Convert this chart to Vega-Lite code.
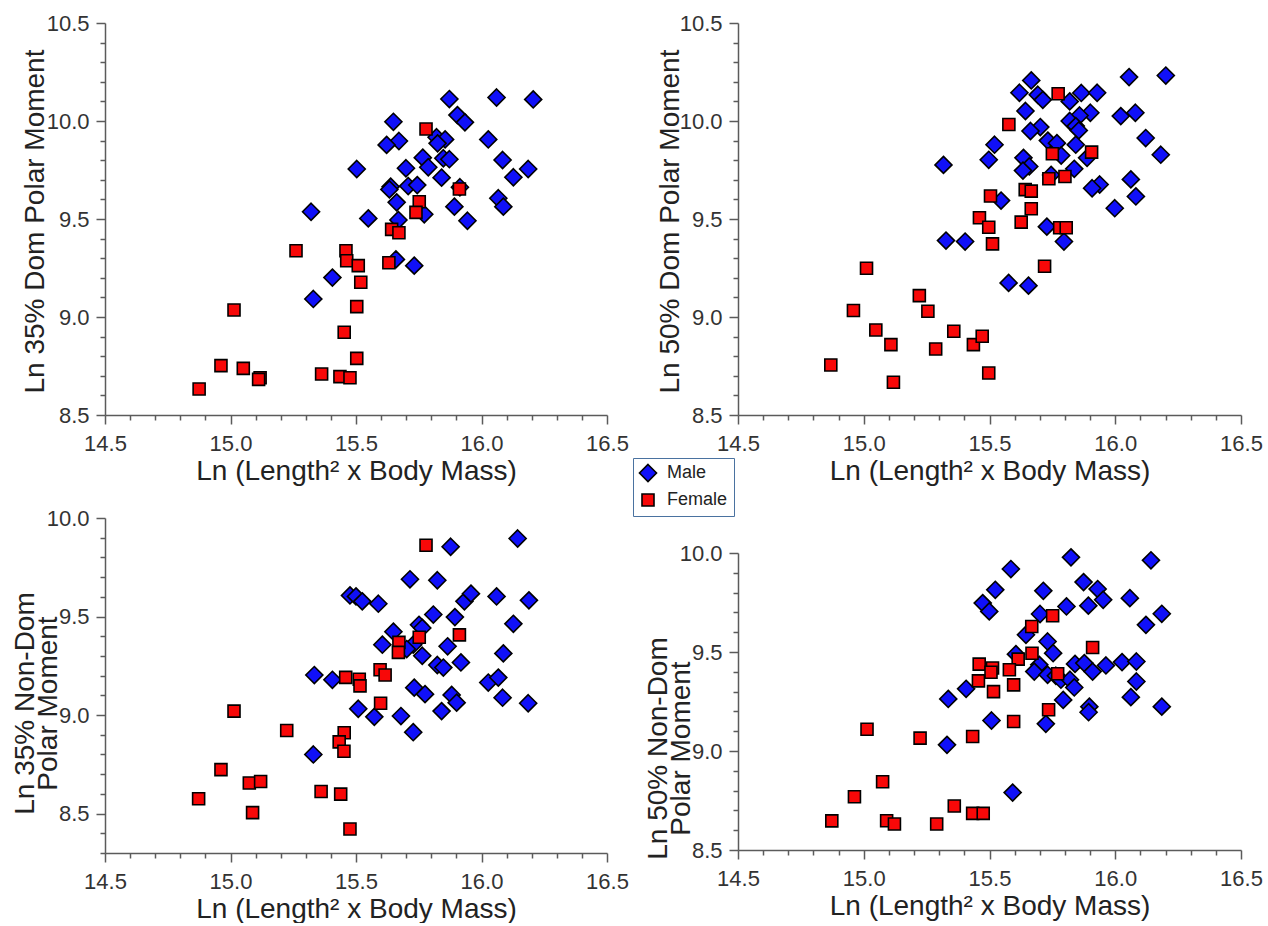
{
  "$schema": "https://vega.github.io/schema/vega-lite/v6.json",
  "background": "white",
  "padding": {"left": 11, "top": 12, "right": 5, "bottom": 0},
  "config": {
    "view": {"stroke": null},
    "font": "Liberation Sans",
    "axis": {
      "grid": false,
      "domainColor": "#5b5b5b",
      "domainWidth": 1.5,
      "tickColor": "#5b5b5b",
      "tickWidth": 1.5,
      "labelFont": "Liberation Sans Narrow, Arial Narrow, Liberation Sans",
      "labelFontSize": 22,
      "labelColor": "#333333",
      "labelFlush": false,
      "labelOverlap": false,
      "labelBound": false,
      "titleFont": "Liberation Sans",
      "titleFontSize": 28,
      "titleFontWeight": "normal",
      "titleColor": "#222222"
    },
    "axisX": {"labelPadding": 9},
    "axisY": {"labelPadding": 7}
  },
  "datasets": {
    "tl": [
      {"s":"Male","x":15.872,"y":10.112},{"s":"Male","x":16.06,"y":10.12},{"s":"Male","x":16.206,"y":10.11},{"s":"Male","x":15.904,"y":10.03},{"s":"Male","x":15.934,"y":9.993},{"s":"Male","x":15.649,"y":9.996},{"s":"Male","x":15.821,"y":9.917},{"s":"Male","x":15.855,"y":9.906},{"s":"Male","x":15.825,"y":9.886},{"s":"Male","x":15.671,"y":9.898},{"s":"Male","x":15.622,"y":9.878},{"s":"Male","x":16.027,"y":9.906},{"s":"Male","x":15.766,"y":9.813},{"s":"Male","x":15.848,"y":9.81},{"s":"Male","x":15.872,"y":9.805},{"s":"Male","x":15.788,"y":9.764},{"s":"Male","x":15.699,"y":9.759},{"s":"Male","x":15.503,"y":9.755},{"s":"Male","x":16.084,"y":9.801},{"s":"Male","x":16.186,"y":9.755},{"s":"Male","x":16.127,"y":9.713},{"s":"Male","x":15.841,"y":9.711},{"s":"Male","x":15.708,"y":9.668},{"s":"Male","x":15.744,"y":9.673},{"s":"Male","x":15.638,"y":9.665},{"s":"Male","x":15.633,"y":9.651},{"s":"Male","x":15.914,"y":9.662},{"s":"Male","x":15.662,"y":9.585},{"s":"Male","x":15.892,"y":9.563},{"s":"Male","x":16.067,"y":9.606},{"s":"Male","x":16.087,"y":9.563},{"s":"Male","x":15.772,"y":9.524},{"s":"Male","x":15.669,"y":9.495},{"s":"Male","x":15.944,"y":9.491},{"s":"Male","x":15.549,"y":9.503},{"s":"Male","x":15.321,"y":9.537},{"s":"Male","x":15.659,"y":9.294},{"s":"Male","x":15.732,"y":9.262},{"s":"Male","x":15.406,"y":9.201},{"s":"Male","x":15.33,"y":9.092},
      {"s":"Female","x":15.779,"y":9.959},{"s":"Female","x":15.912,"y":9.653},{"s":"Female","x":15.752,"y":9.588},{"s":"Female","x":15.739,"y":9.534},{"s":"Female","x":15.642,"y":9.447},{"s":"Female","x":15.671,"y":9.43},{"s":"Female","x":15.261,"y":9.338},{"s":"Female","x":15.46,"y":9.338},{"s":"Female","x":15.463,"y":9.287},{"s":"Female","x":15.509,"y":9.262},{"s":"Female","x":15.631,"y":9.277},{"s":"Female","x":15.519,"y":9.177},{"s":"Female","x":15.503,"y":9.053},{"s":"Female","x":15.014,"y":9.036},{"s":"Female","x":15.453,"y":8.922},{"s":"Female","x":15.503,"y":8.789},{"s":"Female","x":14.962,"y":8.752},{"s":"Female","x":15.051,"y":8.738},{"s":"Female","x":15.118,"y":8.69},{"s":"Female","x":15.112,"y":8.682},{"s":"Female","x":15.363,"y":8.709},{"s":"Female","x":15.436,"y":8.696},{"s":"Female","x":15.476,"y":8.69},{"s":"Female","x":14.875,"y":8.633}
    ],
    "tr": [
      {"s":"Male","x":15.666,"y":10.207},{"s":"Male","x":16.055,"y":10.224},{"s":"Male","x":16.201,"y":10.232},{"s":"Male","x":15.619,"y":10.144},{"s":"Male","x":15.692,"y":10.134},{"s":"Male","x":15.712,"y":10.108},{"s":"Male","x":15.819,"y":10.1},{"s":"Male","x":15.865,"y":10.143},{"s":"Male","x":15.928,"y":10.144},{"s":"Male","x":15.643,"y":10.051},{"s":"Male","x":15.901,"y":10.042},{"s":"Male","x":16.022,"y":10.025},{"s":"Male","x":16.08,"y":10.042},{"s":"Male","x":15.858,"y":10.028},{"s":"Male","x":15.819,"y":10.0},{"s":"Male","x":15.843,"y":9.974},{"s":"Male","x":15.855,"y":9.952},{"s":"Male","x":15.702,"y":9.969},{"s":"Male","x":15.663,"y":9.949},{"s":"Male","x":16.121,"y":9.913},{"s":"Male","x":15.52,"y":9.879},{"s":"Male","x":15.732,"y":9.9},{"s":"Male","x":15.768,"y":9.887},{"s":"Male","x":15.843,"y":9.879},{"s":"Male","x":16.181,"y":9.828},{"s":"Male","x":15.497,"y":9.802},{"s":"Male","x":15.635,"y":9.812},{"s":"Male","x":15.785,"y":9.824},{"s":"Male","x":15.888,"y":9.812},{"s":"Male","x":15.658,"y":9.768},{"s":"Male","x":15.633,"y":9.747},{"s":"Male","x":15.837,"y":9.756},{"s":"Male","x":15.745,"y":9.725},{"s":"Male","x":15.317,"y":9.776},{"s":"Male","x":16.062,"y":9.702},{"s":"Male","x":15.938,"y":9.676},{"s":"Male","x":15.908,"y":9.657},{"s":"Male","x":16.082,"y":9.615},{"s":"Male","x":15.998,"y":9.555},{"s":"Male","x":15.546,"y":9.594},{"s":"Male","x":15.728,"y":9.461},{"s":"Male","x":15.327,"y":9.39},{"s":"Male","x":15.403,"y":9.385},{"s":"Male","x":15.796,"y":9.385},{"s":"Male","x":15.576,"y":9.174},{"s":"Male","x":15.655,"y":9.16},
      {"s":"Female","x":15.773,"y":10.139},{"s":"Female","x":15.577,"y":9.982},{"s":"Female","x":15.75,"y":9.833},{"s":"Female","x":15.906,"y":9.841},{"s":"Female","x":15.736,"y":9.705},{"s":"Female","x":15.8,"y":9.717},{"s":"Female","x":15.642,"y":9.65},{"s":"Female","x":15.666,"y":9.642},{"s":"Female","x":15.504,"y":9.617},{"s":"Female","x":15.666,"y":9.552},{"s":"Female","x":15.46,"y":9.506},{"s":"Female","x":15.497,"y":9.458},{"s":"Female","x":15.626,"y":9.484},{"s":"Female","x":15.779,"y":9.455},{"s":"Female","x":15.805,"y":9.455},{"s":"Female","x":15.512,"y":9.373},{"s":"Female","x":15.719,"y":9.259},{"s":"Female","x":15.011,"y":9.249},{"s":"Female","x":15.221,"y":9.109},{"s":"Female","x":14.959,"y":9.033},{"s":"Female","x":15.255,"y":9.029},{"s":"Female","x":15.048,"y":8.934},{"s":"Female","x":15.358,"y":8.927},{"s":"Female","x":15.108,"y":8.859},{"s":"Female","x":15.286,"y":8.837},{"s":"Female","x":15.436,"y":8.859},{"s":"Female","x":15.471,"y":8.902},{"s":"Female","x":14.869,"y":8.755},{"s":"Female","x":15.118,"y":8.667},{"s":"Female","x":15.497,"y":8.714}
    ],
    "bl": [
      {"s":"Male","x":16.144,"y":9.896},{"s":"Male","x":15.877,"y":9.854},{"s":"Male","x":15.715,"y":9.689},{"s":"Male","x":15.824,"y":9.684},{"s":"Male","x":15.476,"y":9.607},{"s":"Male","x":15.5,"y":9.602},{"s":"Male","x":15.525,"y":9.577},{"s":"Male","x":15.589,"y":9.565},{"s":"Male","x":15.932,"y":9.577},{"s":"Male","x":15.958,"y":9.616},{"s":"Male","x":16.06,"y":9.602},{"s":"Male","x":16.189,"y":9.582},{"s":"Male","x":15.808,"y":9.51},{"s":"Male","x":15.894,"y":9.497},{"s":"Male","x":16.127,"y":9.463},{"s":"Male","x":15.751,"y":9.458},{"s":"Male","x":15.764,"y":9.442},{"s":"Male","x":15.649,"y":9.423},{"s":"Male","x":15.605,"y":9.357},{"s":"Male","x":15.728,"y":9.357},{"s":"Male","x":15.702,"y":9.335},{"s":"Male","x":15.865,"y":9.349},{"s":"Male","x":15.764,"y":9.301},{"s":"Male","x":15.824,"y":9.254},{"s":"Male","x":15.848,"y":9.241},{"s":"Male","x":15.918,"y":9.267},{"s":"Male","x":16.087,"y":9.313},{"s":"Male","x":15.334,"y":9.203},{"s":"Male","x":15.406,"y":9.179},{"s":"Male","x":16.027,"y":9.165},{"s":"Male","x":16.067,"y":9.19},{"s":"Male","x":15.732,"y":9.139},{"s":"Male","x":15.775,"y":9.106},{"s":"Male","x":15.881,"y":9.102},{"s":"Male","x":15.901,"y":9.063},{"s":"Male","x":16.084,"y":9.088},{"s":"Male","x":16.186,"y":9.06},{"s":"Male","x":15.509,"y":9.032},{"s":"Male","x":15.841,"y":9.02},{"s":"Male","x":15.573,"y":8.991},{"s":"Male","x":15.679,"y":8.995},{"s":"Male","x":15.728,"y":8.913},{"s":"Male","x":15.33,"y":8.8},
      {"s":"Female","x":15.779,"y":9.862},{"s":"Female","x":15.912,"y":9.407},{"s":"Female","x":15.752,"y":9.395},{"s":"Female","x":15.671,"y":9.369},{"s":"Female","x":15.669,"y":9.318},{"s":"Female","x":15.596,"y":9.23},{"s":"Female","x":15.616,"y":9.203},{"s":"Female","x":15.459,"y":9.191},{"s":"Female","x":15.513,"y":9.182},{"s":"Female","x":15.516,"y":9.148},{"s":"Female","x":15.598,"y":9.06},{"s":"Female","x":15.014,"y":9.02},{"s":"Female","x":15.224,"y":8.922},{"s":"Female","x":15.453,"y":8.91},{"s":"Female","x":15.433,"y":8.864},{"s":"Female","x":15.452,"y":8.816},{"s":"Female","x":14.962,"y":8.723},{"s":"Female","x":15.075,"y":8.655},{"s":"Female","x":15.12,"y":8.663},{"s":"Female","x":15.361,"y":8.612},{"s":"Female","x":15.439,"y":8.599},{"s":"Female","x":14.873,"y":8.575},{"s":"Female","x":15.088,"y":8.505},{"s":"Female","x":15.476,"y":8.422}
    ],
    "br": [
      {"s":"Male","x":15.824,"y":9.978},{"s":"Male","x":16.142,"y":9.963},{"s":"Male","x":15.585,"y":9.919},{"s":"Male","x":15.523,"y":9.814},{"s":"Male","x":15.714,"y":9.809},{"s":"Male","x":15.874,"y":9.853},{"s":"Male","x":15.93,"y":9.818},{"s":"Male","x":15.952,"y":9.764},{"s":"Male","x":16.058,"y":9.772},{"s":"Male","x":15.473,"y":9.747},{"s":"Male","x":15.499,"y":9.705},{"s":"Male","x":15.806,"y":9.73},{"s":"Male","x":15.893,"y":9.734},{"s":"Male","x":15.701,"y":9.692},{"s":"Male","x":16.185,"y":9.693},{"s":"Male","x":16.122,"y":9.637},{"s":"Male","x":15.645,"y":9.587},{"s":"Male","x":15.731,"y":9.553},{"s":"Male","x":15.753,"y":9.494},{"s":"Male","x":15.605,"y":9.489},{"s":"Male","x":15.84,"y":9.44},{"s":"Male","x":15.877,"y":9.444},{"s":"Male","x":15.963,"y":9.432},{"s":"Male","x":16.027,"y":9.449},{"s":"Male","x":16.084,"y":9.452},{"s":"Male","x":15.698,"y":9.435},{"s":"Male","x":15.678,"y":9.401},{"s":"Male","x":15.731,"y":9.385},{"s":"Male","x":15.764,"y":9.38},{"s":"Male","x":15.784,"y":9.36},{"s":"Male","x":15.82,"y":9.36},{"s":"Male","x":15.91,"y":9.401},{"s":"Male","x":15.837,"y":9.321},{"s":"Male","x":16.084,"y":9.351},{"s":"Male","x":15.407,"y":9.314},{"s":"Male","x":15.336,"y":9.263},{"s":"Male","x":15.793,"y":9.258},{"s":"Male","x":16.062,"y":9.272},{"s":"Male","x":15.897,"y":9.224},{"s":"Male","x":15.894,"y":9.196},{"s":"Male","x":16.185,"y":9.224},{"s":"Male","x":15.508,"y":9.154},{"s":"Male","x":15.724,"y":9.137},{"s":"Male","x":15.331,"y":9.031},{"s":"Male","x":15.592,"y":8.79},
      {"s":"Female","x":15.751,"y":9.683},{"s":"Female","x":15.668,"y":9.629},{"s":"Female","x":15.91,"y":9.523},{"s":"Female","x":15.669,"y":9.494},{"s":"Female","x":15.614,"y":9.464},{"s":"Female","x":15.459,"y":9.439},{"s":"Female","x":15.512,"y":9.419},{"s":"Female","x":15.506,"y":9.398},{"s":"Female","x":15.579,"y":9.41},{"s":"Female","x":15.771,"y":9.39},{"s":"Female","x":15.456,"y":9.354},{"s":"Female","x":15.596,"y":9.334},{"s":"Female","x":15.516,"y":9.3},{"s":"Female","x":15.735,"y":9.208},{"s":"Female","x":15.596,"y":9.149},{"s":"Female","x":15.013,"y":9.11},{"s":"Female","x":15.224,"y":9.065},{"s":"Female","x":15.433,"y":9.073},{"s":"Female","x":15.075,"y":8.845},{"s":"Female","x":14.963,"y":8.769},{"s":"Female","x":15.36,"y":8.722},{"s":"Female","x":15.433,"y":8.685},{"s":"Female","x":15.475,"y":8.685},{"s":"Female","x":14.873,"y":8.647},{"s":"Female","x":15.091,"y":8.648},{"s":"Female","x":15.122,"y":8.631},{"s":"Female","x":15.29,"y":8.631}
    ]
  },
  "resolve": {"scale": {"color": "shared", "shape": "shared"}, "legend": {"color": "shared", "shape": "shared"}},
  "spacing": 15,
  "hconcat": [
    {
      "bounds": "flush",
      "spacing": 103,
      "vconcat": [
        {
          "width": 502, "height": 392,
          "data": {"name": "tl"},
          "mark": {"type": "point", "filled": true, "opacity": 1, "stroke": "#000000", "strokeWidth": 1.6, "size": 144},
          "encoding": {
            "x": {"field": "x", "type": "quantitative", "title": "Ln (Length² x Body Mass)",
              "scale": {"domain": [14.5, 16.5], "nice": false, "zero": false},
              "axis": {"values": [14.5,14.6,14.7,14.8,14.9,15.0,15.1,15.2,15.3,15.4,15.5,15.6,15.7,15.8,15.9,16.0,16.1,16.2,16.3,16.4,16.5],
                "labelExpr": "abs(datum.value*2-round(datum.value*2))<0.001 ? format(datum.value,'.1f') : ''",
                "tickSize": {"condition": {"test": "abs(datum.value*2-round(datum.value*2))<0.001", "value": 9}, "value": 5},
                "titleY": 64, "titleBaseline": "alphabetic"}},
            "y": {"field": "y", "type": "quantitative", "title": "Ln 35% Dom Polar Moment",
              "scale": {"domain": [8.5, 10.5], "nice": false, "zero": false},
              "axis": {"values": [8.5,8.6,8.7,8.8,8.9,9.0,9.1,9.2,9.3,9.4,9.5,9.6,9.7,9.8,9.9,10.0,10.1,10.2,10.3,10.4,10.5],
                "labelExpr": "abs(datum.value*2-round(datum.value*2))<0.001 ? format(datum.value,'.1f') : ''",
                "tickSize": {"condition": {"test": "abs(datum.value*2-round(datum.value*2))<0.001", "value": 9}, "value": 5},
                "titleX": -62, "titleY": 198, "titleAngle": -90, "titleAlign": "center", "titleBaseline": "alphabetic"}},
            "color": {"field": "s", "type": "nominal", "scale": {"domain": ["Male", "Female"], "range": ["#1010f8", "#f80808"]},
              "legend": {"orient": "none", "legendX": 528, "legendY": 435, "title": null, "fillColor": "white", "strokeColor": "#4a72a0", "padding": 6, "labelFont": "Liberation Sans", "labelFontSize": 18, "labelColor": "#222222", "symbolStrokeColor": "#000000", "symbolStrokeWidth": 1.6, "symbolSize": 144, "rowPadding": 5, "labelOffset": 10}},
            "shape": {"field": "s", "type": "nominal", "scale": {"domain": ["Male", "Female"], "range": ["M0,-1.42L1.42,0L0,1.42L-1.42,0Z", "M-1,-1L1,-1L1,1L-1,1Z"]},
              "legend": {"orient": "none", "legendX": 528, "legendY": 435, "title": null, "fillColor": "white", "strokeColor": "#4a72a0", "padding": 6, "labelFont": "Liberation Sans", "labelFontSize": 18, "labelColor": "#222222", "symbolStrokeColor": "#000000", "symbolStrokeWidth": 1.6, "symbolSize": 144, "rowPadding": 5, "labelOffset": 10}}
          }
        },
        {
          "width": 502, "height": 335,
          "data": {"name": "bl"},
          "mark": {"type": "point", "filled": true, "opacity": 1, "stroke": "#000000", "strokeWidth": 1.6, "size": 144},
          "encoding": {
            "x": {"field": "x", "type": "quantitative", "title": "Ln (Length² x Body Mass)",
              "scale": {"domain": [14.5, 16.5], "nice": false, "zero": false},
              "axis": {"values": [14.5,14.6,14.7,14.8,14.9,15.0,15.1,15.2,15.3,15.4,15.5,15.6,15.7,15.8,15.9,16.0,16.1,16.2,16.3,16.4,16.5],
                "labelExpr": "abs(datum.value*2-round(datum.value*2))<0.001 ? format(datum.value,'.1f') : ''",
                "tickSize": {"condition": {"test": "abs(datum.value*2-round(datum.value*2))<0.001", "value": 9}, "value": 5},
                "titleY": 64, "titleBaseline": "alphabetic"}},
            "y": {"field": "y", "type": "quantitative", "title": ["Ln 35% Non-Dom", "Polar Moment"],
              "scale": {"domain": [8.3, 10.0], "nice": false, "zero": false},
              "axis": {"values": [8.3,8.4,8.5,8.6,8.7,8.8,8.9,9.0,9.1,9.2,9.3,9.4,9.5,9.6,9.7,9.8,9.9,10.0],
                "labelExpr": "abs(datum.value*2-round(datum.value*2))<0.001 ? format(datum.value,'.1f') : ''",
                "tickSize": {"condition": {"test": "abs(datum.value*2-round(datum.value*2))<0.001", "value": 9}, "value": 5},
                "titleX": -72, "titleY": 185, "titleAngle": -90, "titleAlign": "center", "titleBaseline": "alphabetic", "titleLineHeight": 23}},
            "color": {"field": "s", "type": "nominal", "scale": {"domain": ["Male", "Female"], "range": ["#1010f8", "#f80808"]},
              "legend": {"orient": "none", "legendX": 528, "legendY": 435, "title": null, "fillColor": "white", "strokeColor": "#4a72a0", "padding": 6, "labelFont": "Liberation Sans", "labelFontSize": 18, "labelColor": "#222222", "symbolStrokeColor": "#000000", "symbolStrokeWidth": 1.6, "symbolSize": 144, "rowPadding": 5, "labelOffset": 10}},
            "shape": {"field": "s", "type": "nominal", "scale": {"domain": ["Male", "Female"], "range": ["M0,-1.42L1.42,0L0,1.42L-1.42,0Z", "M-1,-1L1,-1L1,1L-1,1Z"]},
              "legend": {"orient": "none", "legendX": 528, "legendY": 435, "title": null, "fillColor": "white", "strokeColor": "#4a72a0", "padding": 6, "labelFont": "Liberation Sans", "labelFontSize": 18, "labelColor": "#222222", "symbolStrokeColor": "#000000", "symbolStrokeWidth": 1.6, "symbolSize": 144, "rowPadding": 5, "labelOffset": 10}}
          }
        }
      ]
    },
    {
      "bounds": "flush",
      "spacing": 138,
      "vconcat": [
        {
          "width": 503, "height": 392,
          "data": {"name": "tr"},
          "mark": {"type": "point", "filled": true, "opacity": 1, "stroke": "#000000", "strokeWidth": 1.6, "size": 144},
          "encoding": {
            "x": {"field": "x", "type": "quantitative", "title": "Ln (Length² x Body Mass)",
              "scale": {"domain": [14.5, 16.5], "nice": false, "zero": false},
              "axis": {"values": [14.5,14.6,14.7,14.8,14.9,15.0,15.1,15.2,15.3,15.4,15.5,15.6,15.7,15.8,15.9,16.0,16.1,16.2,16.3,16.4,16.5],
                "labelExpr": "abs(datum.value*2-round(datum.value*2))<0.001 ? format(datum.value,'.1f') : ''",
                "tickSize": {"condition": {"test": "abs(datum.value*2-round(datum.value*2))<0.001", "value": 9}, "value": 5},
                "titleY": 64, "titleBaseline": "alphabetic"}},
            "y": {"field": "y", "type": "quantitative", "title": "Ln 50% Dom Polar Moment",
              "scale": {"domain": [8.5, 10.5], "nice": false, "zero": false},
              "axis": {"values": [8.5,8.6,8.7,8.8,8.9,9.0,9.1,9.2,9.3,9.4,9.5,9.6,9.7,9.8,9.9,10.0,10.1,10.2,10.3,10.4,10.5],
                "labelExpr": "abs(datum.value*2-round(datum.value*2))<0.001 ? format(datum.value,'.1f') : ''",
                "tickSize": {"condition": {"test": "abs(datum.value*2-round(datum.value*2))<0.001", "value": 9}, "value": 5},
                "titleX": -60, "titleY": 198, "titleAngle": -90, "titleAlign": "center", "titleBaseline": "alphabetic"}},
            "color": {"field": "s", "type": "nominal", "scale": {"domain": ["Male", "Female"], "range": ["#1010f8", "#f80808"]},
              "legend": {"orient": "none", "legendX": 528, "legendY": 435, "title": null, "fillColor": "white", "strokeColor": "#4a72a0", "padding": 6, "labelFont": "Liberation Sans", "labelFontSize": 18, "labelColor": "#222222", "symbolStrokeColor": "#000000", "symbolStrokeWidth": 1.6, "symbolSize": 144, "rowPadding": 5, "labelOffset": 10}},
            "shape": {"field": "s", "type": "nominal", "scale": {"domain": ["Male", "Female"], "range": ["M0,-1.42L1.42,0L0,1.42L-1.42,0Z", "M-1,-1L1,-1L1,1L-1,1Z"]},
              "legend": {"orient": "none", "legendX": 528, "legendY": 435, "title": null, "fillColor": "white", "strokeColor": "#4a72a0", "padding": 6, "labelFont": "Liberation Sans", "labelFontSize": 18, "labelColor": "#222222", "symbolStrokeColor": "#000000", "symbolStrokeWidth": 1.6, "symbolSize": 144, "rowPadding": 5, "labelOffset": 10}}
          }
        },
        {
          "width": 503, "height": 297,
          "data": {"name": "br"},
          "mark": {"type": "point", "filled": true, "opacity": 1, "stroke": "#000000", "strokeWidth": 1.6, "size": 144},
          "encoding": {
            "x": {"field": "x", "type": "quantitative", "title": "Ln (Length² x Body Mass)",
              "scale": {"domain": [14.5, 16.5], "nice": false, "zero": false},
              "axis": {"values": [14.5,14.6,14.7,14.8,14.9,15.0,15.1,15.2,15.3,15.4,15.5,15.6,15.7,15.8,15.9,16.0,16.1,16.2,16.3,16.4,16.5],
                "labelExpr": "abs(datum.value*2-round(datum.value*2))<0.001 ? format(datum.value,'.1f') : ''",
                "tickSize": {"condition": {"test": "abs(datum.value*2-round(datum.value*2))<0.001", "value": 9}, "value": 5},
                "titleY": 64, "titleBaseline": "alphabetic"}},
            "y": {"field": "y", "type": "quantitative", "title": ["Ln 50% Non-Dom", "Polar Moment"],
              "scale": {"domain": [8.5, 10.0], "nice": false, "zero": false},
              "axis": {"values": [8.5,8.6,8.7,8.8,8.9,9.0,9.1,9.2,9.3,9.4,9.5,9.6,9.7,9.8,9.9,10.0],
                "labelExpr": "abs(datum.value*2-round(datum.value*2))<0.001 ? format(datum.value,'.1f') : ''",
                "tickSize": {"condition": {"test": "abs(datum.value*2-round(datum.value*2))<0.001", "value": 9}, "value": 5},
                "titleX": -72, "titleY": 195, "titleAngle": -90, "titleAlign": "center", "titleBaseline": "alphabetic", "titleLineHeight": 23}},
            "color": {"field": "s", "type": "nominal", "scale": {"domain": ["Male", "Female"], "range": ["#1010f8", "#f80808"]},
              "legend": {"orient": "none", "legendX": 528, "legendY": 435, "title": null, "fillColor": "white", "strokeColor": "#4a72a0", "padding": 6, "labelFont": "Liberation Sans", "labelFontSize": 18, "labelColor": "#222222", "symbolStrokeColor": "#000000", "symbolStrokeWidth": 1.6, "symbolSize": 144, "rowPadding": 5, "labelOffset": 10}},
            "shape": {"field": "s", "type": "nominal", "scale": {"domain": ["Male", "Female"], "range": ["M0,-1.42L1.42,0L0,1.42L-1.42,0Z", "M-1,-1L1,-1L1,1L-1,1Z"]},
              "legend": {"orient": "none", "legendX": 528, "legendY": 435, "title": null, "fillColor": "white", "strokeColor": "#4a72a0", "padding": 6, "labelFont": "Liberation Sans", "labelFontSize": 18, "labelColor": "#222222", "symbolStrokeColor": "#000000", "symbolStrokeWidth": 1.6, "symbolSize": 144, "rowPadding": 5, "labelOffset": 10}}
          }
        }
      ]
    }
  ]
}
